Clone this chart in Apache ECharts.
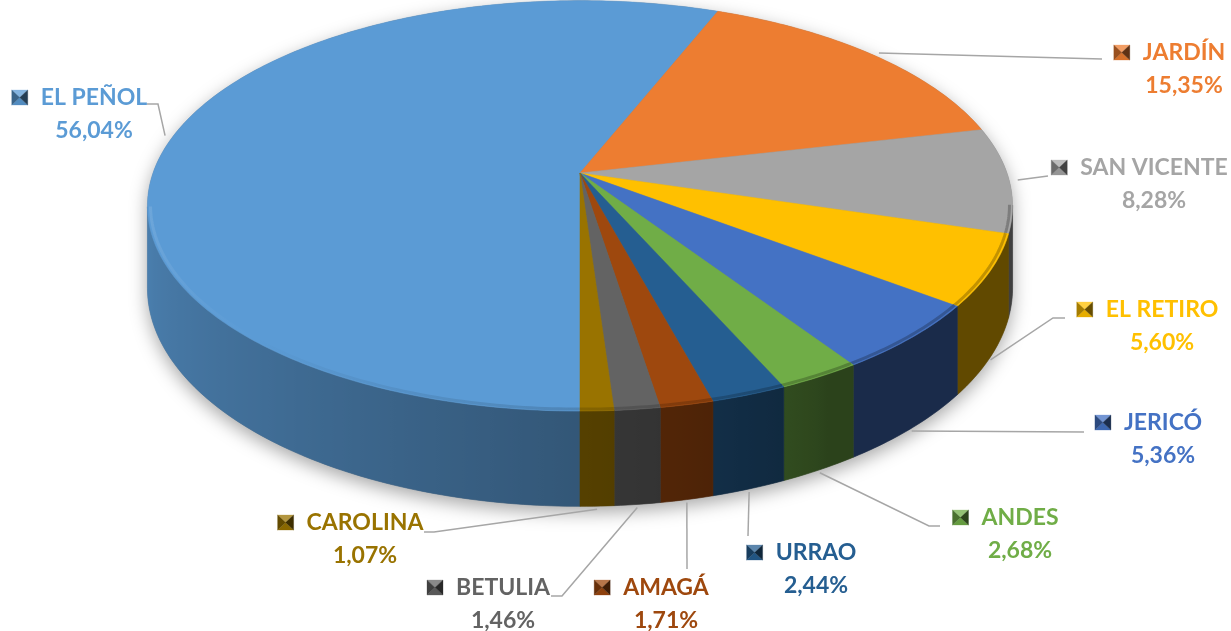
<!DOCTYPE html>
<html>
<head>
<meta charset="utf-8">
<script src="https://cdn.jsdelivr.net/npm/echarts@6/dist/echarts.min.js"></script>
<style>
  html, body { margin: 0; background: #fff; }
  #chart { width: 1231px; height: 631px; }
</style>
</head>
<body>
<div id="chart"></div>
<script>
// datos
var municipios = ['EL PEÑOL', 'JARDÍN', 'SAN VICENTE', 'EL RETIRO', 'JERICÓ', 'ANDES', 'URRAO', 'AMAGÁ', 'BETULIA', 'CAROLINA'];
var porcentajes = [56.04, 15.35, 8.28, 5.60, 5.36, 2.68, 2.44, 1.71, 1.46, 1.07];

// estilo (paleta Office)
var colores = ['#5B9BD5', '#ED7D31', '#A5A5A5', '#FFC000', '#4472C4', '#70AD47', '#255E91', '#9E480E', '#636363', '#997300'];

// posicion de las etiquetas (centro del nombre) y puntos de la linea guia
var etiquetaEn = [[94, 98], [1184, 53], [1154, 168], [1162, 310], [1163, 423], [1020, 518], [816, 553], [666, 588], [503, 588], [365, 523]];
var guiaEn = [
    [[158, 104], [147, 104]],
    [[1102, 59]],
    [[1048, 176]],
    [[1053, 318], [1065, 318]],
    [[1084, 432]],
    [[929, 526], [940, 526]],
    [[748, 536]],
    [[687, 569]],
    [[562, 596], [551, 596]],
    [[434, 532], [424, 532]]
];

// geometria del pastel 3D (perspectiva simple)
var CX = 580, CY = 173, RX = 427, RY = 200, K = 0.16, PROF = 80;
var FUENTE = 'bold 23px Lato';

var total = porcentajes.reduce(function (a, b) { return a + b; }, 0);
var acumulado = [];
porcentajes.reduce(function (a, b, i) { acumulado[i] = a; return a + b; }, 0);

function proj(phi, r) {
    r = r || 1;
    var a = phi * Math.PI / 180;
    var u = Math.sin(a) * r, v = -Math.cos(a) * r;
    var w = 1 / (1 - K * v);
    return { x: CX + RX * u * w, y: CY + RY * v * w, w: w, v: v, phi: phi };
}

function rgb(hex) {
    return [parseInt(hex.substr(1, 2), 16), parseInt(hex.substr(3, 2), 16), parseInt(hex.substr(5, 2), 16)];
}
function escala(hex, f) {
    var c = rgb(hex);
    return 'rgb(' + c.map(function (x) { return Math.round(Math.min(255, x * f)); }).join(',') + ')';
}
function mezcla(hex, t) {
    // t > 0 aclara hacia blanco, t < 0 oscurece hacia negro
    var c = rgb(hex);
    return 'rgb(' + c.map(function (x) {
        return Math.round(t >= 0 ? x + (255 - x) * t : x * (1 + t));
    }).join(',') + ')';
}
function luz(phi) {
    var p = ((phi % 360) + 360) % 360;
    return Math.max(0, Math.min(1, (p - 150) / 120));
}

var medida = document.createElement('canvas').getContext('2d');
function anchoTexto(s) {
    medida.font = FUENTE;
    return medida.measureText(s).width;
}

function angulos(i) {
    var ini = 180 + acumulado[i] / total * 360;
    return [ini, ini + porcentajes[i] / total * 360];
}

// degradado horizontal (coordenadas globales) a lo largo de la parte frontal
function degradado(frente, colorDe) {
    var x0 = frente[frente.length - 1].x, x1 = frente[0].x;
    var span = Math.max(1, x1 - x0);
    var stops = [];
    for (var k = frente.length - 1; k >= 0; k--) {
        stops.push({ offset: Math.max(0, Math.min(1, (frente[k].x - x0) / span)), color: colorDe(frente[k].phi) });
    }
    return { type: 'linear', x: x0, y: 0, x2: x0 + span, y2: 0, global: true, colorStops: stops };
}

function marcador(x, y, color) {
    var w = 16, h = 15;
    var c = [x + w / 2, y + h / 2];
    var tri = function (pts, fill) {
        return { type: 'polygon', shape: { points: pts }, style: { fill: fill, stroke: fill, lineWidth: 0.3 } };
    };
    return [
        tri([[x, y], [x + w, y], c], mezcla(color, 0.25)),
        tri([[x, y + h], [x + w, y + h], c], mezcla(color, -0.1)),
        tri([[x, y], [x, y + h], c], mezcla(color, -0.35)),
        tri([[x + w, y], [x + w, y + h], c], mezcla(color, -0.6))
    ];
}

function renderSombra(params, api) {
    var pts = [];
    for (var k = 0; k <= 360; k++) {
        var p = proj(k), q = proj(k + 1);
        if (q.x < p.x) pts.push([p.x, p.y + PROF * p.w]);
        else pts.push([p.x, p.y]);
    }
    return {
        type: 'polygon',
        shape: { points: pts },
        style: { fill: '#7f7f7f', shadowBlur: 18, shadowColor: 'rgba(0,0,0,0.35)', shadowOffsetY: 6 }
    };
}

function renderPorcion(params, api) {
    var i = params.dataIndex;
    var color = colores[i];
    var a = angulos(i);
    var n = Math.max(2, Math.ceil((a[1] - a[0]) / 0.8));
    var pts = [];
    for (var k = 0; k <= n; k++) pts.push(proj(a[0] + (a[1] - a[0]) * k / n));
    var hijos = [];

    // parte frontal visible del borde
    var frente = [];
    for (k = 0; k < n; k++) {
        if (pts[k + 1].x < pts[k].x) {
            if (frente[frente.length - 1] !== pts[k]) frente.push(pts[k]);
            frente.push(pts[k + 1]);
        }
    }

    // pared lateral
    if (frente.length > 1) {
        var pared = frente.map(function (p) { return [p.x, p.y]; });
        for (k = frente.length - 1; k >= 0; k--) pared.push([frente[k].x, frente[k].y + PROF * frente[k].w]);
        var relleno = degradado(frente, function (phi) {
            return escala(color, 0.38 + 0.47 * Math.pow(luz(phi), 0.7));
        });
        hijos.push({ type: 'polygon', shape: { points: pared }, style: { fill: relleno, stroke: relleno, lineWidth: 0.6 } });
    }

    // cara superior
    var cara = [[CX, CY]].concat(pts.map(function (p) { return [p.x, p.y]; }));
    hijos.push({ type: 'polygon', shape: { points: cara }, style: { fill: color, stroke: color, lineWidth: 0.5 } });

    // bisel del borde frontal
    if (frente.length > 1) {
        var bisel = frente.map(function (p) { var b = proj(p.phi, 0.993); return [b.x, b.y]; });
        var trazo = degradado(frente, function (phi) { return mezcla(color, -0.3 + 0.5 * luz(phi)); });
        hijos.push({ type: 'polyline', shape: { points: bisel }, style: { stroke: trazo, lineWidth: 3, fill: null, opacity: 0.8 } });
    }

    // linea guia
    var am = (a[0] + a[1]) / 2;
    var pm = proj(am);
    var inicio;
    if (pm.v > 0.2) inicio = [pm.x, pm.y + PROF * pm.w + 3];
    else { var po = proj(am, 1.02); inicio = [po.x, po.y]; }
    hijos.push({
        type: 'polyline',
        shape: { points: [inicio].concat(guiaEn[i]) },
        style: { stroke: '#A6A6A6', lineWidth: 1.5, fill: null }
    });

    // etiqueta
    var nombre = municipios[i];
    var pct = porcentajes[i].toFixed(2).replace('.', ',') + '%';
    var cx = etiquetaEn[i][0], cy = etiquetaEn[i][1];
    var izq = cx - anchoTexto(nombre) / 2;
    hijos = hijos.concat(marcador(izq - 29, cy - 8, color));
    hijos.push({
        type: 'text',
        style: { text: nombre, x: cx, y: cy, fill: color, font: FUENTE, align: 'center', verticalAlign: 'middle' }
    });
    hijos.push({
        type: 'text',
        style: { text: pct, x: cx, y: cy + 33, fill: color, font: FUENTE, align: 'center', verticalAlign: 'middle' }
    });

    return { type: 'group', children: hijos };
}

var grafico = echarts.init(document.getElementById('chart'));
grafico.setOption({
    backgroundColor: '#ffffff',
    animation: false,
    series: [
        { type: 'custom', coordinateSystem: 'none', data: [0], renderItem: renderSombra, silent: true, z: 1 },
        { type: 'custom', coordinateSystem: 'none', data: porcentajes, renderItem: renderPorcion, silent: true, z: 2 }
    ]
});
</script>
</body>
</html>
